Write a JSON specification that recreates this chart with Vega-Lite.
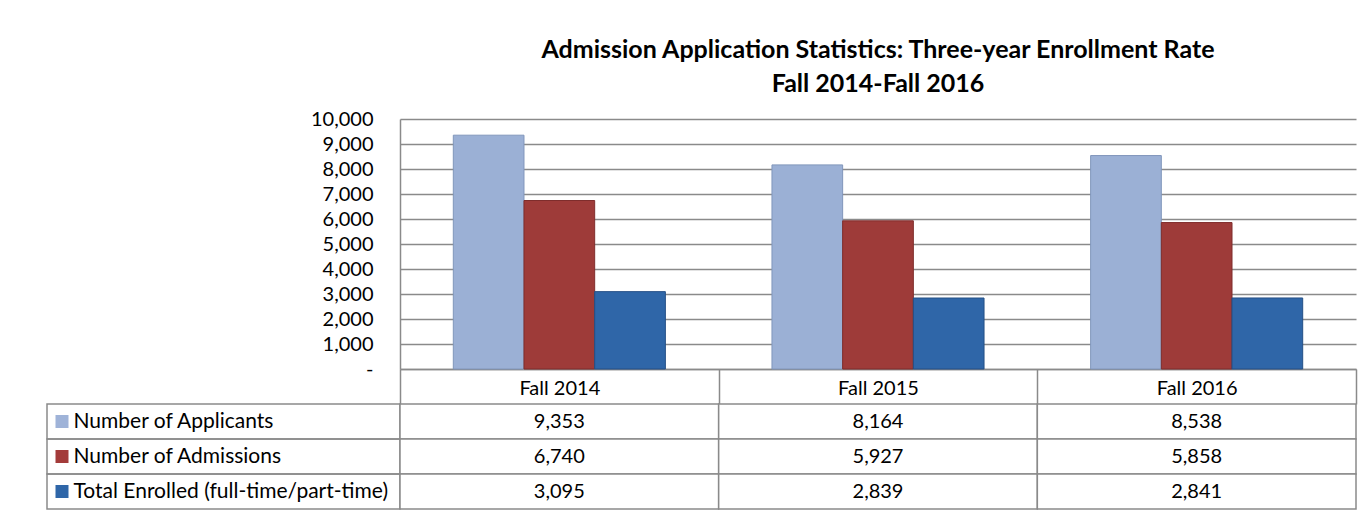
{
  "$schema": "https://vega.github.io/schema/vega-lite/v6.json",
  "padding": {"left": 46, "top": 38, "right": 8, "bottom": 8},
  "background": "white",
  "config": {
    "view": {"stroke": null},
    "font": "Lato",
    "axis": {"labelFont": "Lato"}
  },
  "datasets": {
    "d": [
      {"Fall": "Fall 2014", "Series": "Number of Applicants", "Value": 9353},
      {"Fall": "Fall 2014", "Series": "Number of Admissions", "Value": 6740},
      {"Fall": "Fall 2014", "Series": "Total Enrolled (full-time/part-time)", "Value": 3095},
      {"Fall": "Fall 2015", "Series": "Number of Applicants", "Value": 8164},
      {"Fall": "Fall 2015", "Series": "Number of Admissions", "Value": 5927},
      {"Fall": "Fall 2015", "Series": "Total Enrolled (full-time/part-time)", "Value": 2839},
      {"Fall": "Fall 2016", "Series": "Number of Applicants", "Value": 8538},
      {"Fall": "Fall 2016", "Series": "Number of Admissions", "Value": 5858},
      {"Fall": "Fall 2016", "Series": "Total Enrolled (full-time/part-time)", "Value": 2841}
    ]
  },
  "columns": 2,
  "spacing": {"row": 35, "column": 0},
  "bounds": "flush",
  "align": "each",
  "concat": [
    {
      "width": 353,
      "height": 250,
      "data": {"values": [{"a": 0}]},
      "mark": {"type": "point", "opacity": 0},
      "encoding": {}
    },
    {
      "width": 956,
      "height": 250,
      "title": {
        "text": ["Admission Application Statistics: Three-year Enrollment Rate", "Fall 2014-Fall 2016"],
        "anchor": "middle",
        "font": "Lato",
        "fontSize": 25,
        "fontWeight": "bold",
        "color": "black",
        "lineHeight": 34,
        "baseline": "bottom",
        "offset": -13
      },
      "data": {"name": "d"},
      "mark": {"type": "bar", "strokeWidth": 1},
      "encoding": {
        "x": {
          "field": "Fall",
          "type": "nominal",
          "scale": {"paddingInner": 0, "paddingOuter": 0},
          "axis": {
            "title": null,
            "labelAngle": 0,
            "labelFontSize": 20,
            "labelColor": "black",
            "labelPadding": -26,
            "ticks": true,
            "tickBand": "extent",
            "tickSize": 35,
            "tickColor": "#8a8a8a",
            "tickWidth": 1.5,
            "domainColor": "#8a8a8a",
            "domainWidth": 1.5,
            "grid": false
          }
        },
        "xOffset": {
          "field": "Series",
          "sort": ["Number of Applicants", "Number of Admissions", "Total Enrolled (full-time/part-time)"],
          "scale": {"paddingInner": 0, "paddingOuter": 0.754}
        },
        "y": {
          "field": "Value",
          "type": "quantitative",
          "scale": {"domain": [0, 10000], "nice": false},
          "axis": {
            "title": null,
            "values": [0, 1000, 2000, 3000, 4000, 5000, 6000, 7000, 8000, 9000, 10000],
            "labelExpr": "datum.value === 0 ? '-\u00a0\u00a0' : format(datum.value, ',')",
            "labelFontSize": 20,
            "labelColor": "black",
            "labelPadding": 27,
            "ticks": false,
            "domainColor": "#8a8a8a",
            "domainWidth": 1.5,
            "gridColor": "#8a8a8a",
            "gridWidth": 1.3
          }
        },
        "color": {
          "field": "Series",
          "type": "nominal",
          "scale": {
            "domain": ["Number of Applicants", "Number of Admissions", "Total Enrolled (full-time/part-time)"],
            "range": ["#9bb0d5", "#9e3b39", "#2f66a8"]
          },
          "legend": null
        },
        "stroke": {
          "field": "Series",
          "type": "nominal",
          "scale": {
            "domain": ["Number of Applicants", "Number of Admissions", "Total Enrolled (full-time/part-time)"],
            "range": ["#8096bb", "#7f2d2c", "#244f86"]
          },
          "legend": null
        }
      }
    },
    {
      "width": 353,
      "height": 105,
      "data": {"name": "d"},
      "transform": [{"filter": "datum.Fall === 'Fall 2014'"}],
      "mark": {"type": "rect", "fill": "white", "fillOpacity": 0, "stroke": "#8a8a8a", "strokeWidth": 1.5},
      "encoding": {
        "y": {
          "field": "Series",
          "type": "nominal",
          "sort": ["Number of Applicants", "Number of Admissions", "Total Enrolled (full-time/part-time)"],
          "scale": {"paddingInner": 0, "paddingOuter": 0},
          "axis": {
            "title": null,
            "orient": "left",
            "offset": -21,
            "zindex": 1,
            "domain": false,
            "grid": false,
            "ticks": true,
            "tickSize": 13,
            "tickWidth": 13,
            "tickColor": {
              "condition": [
                {"test": "datum.value === 'Number of Applicants'", "value": "#9fb3d8"},
                {"test": "datum.value === 'Number of Admissions'", "value": "#a33b3a"}
              ],
              "value": "#2f66a8"
            },
            "labelAlign": "left",
            "labelBaseline": "middle",
            "labelPadding": -18,
            "labelFontSize": 21,
            "labelColor": "black",
            "labelLimit": 0
          }
        }
      }
    },
    {
      "width": 956,
      "height": 105,
      "data": {"name": "d"},
      "encoding": {
        "x": {"field": "Fall", "type": "nominal", "scale": {"paddingInner": 0, "paddingOuter": 0}, "axis": null},
        "y": {
          "field": "Series",
          "type": "nominal",
          "sort": ["Number of Applicants", "Number of Admissions", "Total Enrolled (full-time/part-time)"],
          "scale": {"paddingInner": 0, "paddingOuter": 0},
          "axis": null
        }
      },
      "layer": [
        {"mark": {"type": "rect", "fill": "white", "stroke": "#8a8a8a", "strokeWidth": 1.5}},
        {
          "mark": {"type": "text", "fontSize": 20, "color": "black", "font": "Lato"},
          "encoding": {"text": {"field": "Value", "type": "quantitative", "format": ","}}
        }
      ]
    }
  ]
}
